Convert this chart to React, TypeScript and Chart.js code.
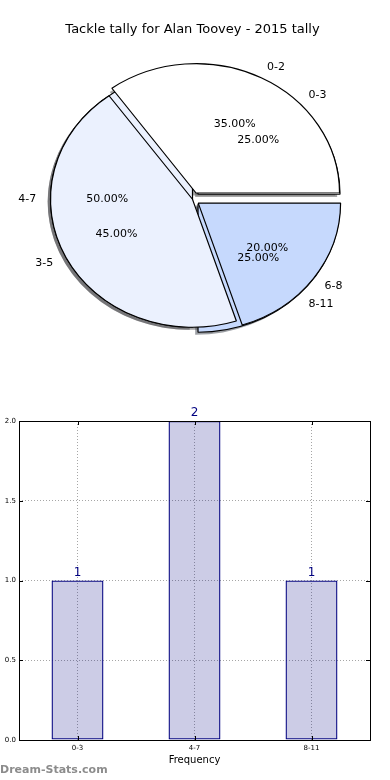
import React, { useEffect, useRef } from "react";
import { Chart, registerables } from "chart.js";

Chart.register(...registerables);

// ---------- data ----------
const TITLE = "Tackle tally for Alan Toovey - 2015 tally";

const pieALabels = ["0-2", "3-5", "6-8"];
const pieAValues = [35, 45, 20];
const pieAExplode = [0.055, 0, 0.05];

const pieBLabels = ["0-3", "4-7", "8-11"];
const pieBValues = [1, 2, 1];
const pieBExplode = [0.055, 0, 0.055];

const sliceColors = ["#ffffff", "#ebf1fe", "#c6d9fd"];

const barCategories = ["0-3", "4-7", "8-11"];
const barValues = [1, 2, 1];
const yTickValues = [0, 0.5, 1.0, 1.5, 2.0];
const X_TITLE = "Frequency";
const WATERMARK = "Dream-Stats.com";

// ---------- geometry / style ----------
const FONT = "'DejaVu Sans', 'Liberation Sans', sans-serif";
const PIE_R = 142; // horizontal radius
const PIE_K = 128 / 142; // vertical squash (axes not equal aspect)

Chart.defaults.font.family = FONT;

function hexRgb(c: string): number[] {
  const h = c.replace("#", "");
  return [0, 2, 4].map((i) => parseInt(h.substr(i, 2), 16));
}

const pieGeometry = {
  id: "pieGeometry",
  afterDatasetsUpdate(chart: any) {
    chart.getSortedVisibleDatasetMetas().forEach((meta: any) => {
      meta.data.forEach((arc: any) => {
        arc.innerRadius = 0;
        arc.outerRadius = PIE_R;
      });
    });
  },
  beforeDatasetsDraw(chart: any) {
    const ctx = chart.ctx;
    const metas = chart.getSortedVisibleDatasetMetas();
    const a0 = metas[0].data[0];
    const cx = a0.x;
    const cy = a0.y;
    ctx.save();
    ctx.translate(cx, cy);
    ctx.scale(1, PIE_K);
    ctx.translate(-cx, -cy);
    // shadows of all wedges first (behind every wedge)
    metas.forEach((meta: any) => {
      meta.data.forEach((arc: any) => {
        const mid = (arc.startAngle + arc.endAngle) / 2;
        const sh = (arc.options.offset || 0) / 4;
        const x = arc.x + Math.cos(mid) * sh - 0.02 * PIE_R;
        const y = arc.y + Math.sin(mid) * sh + 0.02 * PIE_R;
        const [r, g, b] = hexRgb(arc.options.backgroundColor);
        ctx.beginPath();
        ctx.moveTo(x, y);
        ctx.arc(x, y, arc.outerRadius, arc.startAngle, arc.endAngle);
        ctx.closePath();
        ctx.fillStyle = `rgba(${Math.round(r * 0.3)},${Math.round(g * 0.3)},${Math.round(b * 0.3)},0.5)`;
        ctx.fill();
      });
    });
  },
  afterDatasetsDraw(chart: any) {
    chart.ctx.restore();
  },
  afterDraw(chart: any) {
    const ctx = chart.ctx;
    ctx.save();
    ctx.fillStyle = "#000";
    ctx.font = `11px ${FONT}`;
    ctx.textBaseline = "middle";
    chart.getSortedVisibleDatasetMetas().forEach((meta: any) => {
      const ds: any = chart.data.datasets[meta.index];
      const total = ds.data.reduce((s: number, v: number) => s + v, 0);
      meta.data.forEach((arc: any, i: number) => {
        const mid = (arc.startAngle + arc.endAngle) / 2;
        const sh = (arc.options.offset || 0) / 4;
        const ox = arc.x + Math.cos(mid) * sh;
        const oy = arc.y + Math.sin(mid) * sh * PIE_K;
        const lx = ox + 1.1 * PIE_R * Math.cos(mid);
        const ly = oy + 1.1 * PIE_R * Math.sin(mid) * PIE_K;
        ctx.textAlign = Math.cos(mid) > 0 ? "left" : "right";
        ctx.fillText(ds.sliceLabels[i], lx, ly);
        const px = ox + 0.6 * PIE_R * Math.cos(mid);
        const py = oy + 0.6 * PIE_R * Math.sin(mid) * PIE_K;
        ctx.textAlign = "center";
        ctx.fillText(((ds.data[i] / total) * 100).toFixed(2) + "%", px, py);
      });
    });
    ctx.restore();
  },
};

const barDecor = {
  id: "barDecor",
  afterDatasetsDraw(chart: any) {
    const ctx = chart.ctx;
    const { left, right, top, bottom } = chart.chartArea;
    const xs = chart.scales.x;
    const ys = chart.scales.y;
    ctx.save();
    // frame
    ctx.strokeStyle = "#000";
    ctx.lineWidth = 1;
    ctx.strokeRect(Math.round(left) + 0.5, Math.round(top) + 0.5, Math.round(right - left), Math.round(bottom - top));
    // inside ticks
    ctx.beginPath();
    xs.ticks.forEach((_t: any, i: number) => {
      const x = Math.round(xs.getPixelForTick(i)) + 0.5;
      ctx.moveTo(x, bottom);
      ctx.lineTo(x, bottom - 4);
      ctx.moveTo(x, top);
      ctx.lineTo(x, top + 4);
    });
    ys.ticks.forEach((_t: any, i: number) => {
      const y = Math.round(ys.getPixelForTick(i)) + 0.5;
      ctx.moveTo(left, y);
      ctx.lineTo(left + 4, y);
      ctx.moveTo(right, y);
      ctx.lineTo(right - 4, y);
    });
    ctx.stroke();
    // value labels
    const meta = chart.getDatasetMeta(0);
    ctx.fillStyle = "#000080";
    ctx.font = `12px ${FONT}`;
    ctx.textAlign = "center";
    ctx.textBaseline = "bottom";
    meta.data.forEach((bar: any, i: number) => {
      ctx.fillText(String(chart.data.datasets[0].data[i]), bar.x, bar.y - 2);
    });
    ctx.restore();
  },
  afterDraw(chart: any) {
    const ctx = chart.ctx;
    ctx.save();
    ctx.fillStyle = "#8c8c8c";
    ctx.font = `bold 11px ${FONT}`;
    ctx.textAlign = "left";
    ctx.textBaseline = "middle";
    ctx.fillText(WATERMARK, 0, 370);
    ctx.restore();
  },
};

export default function App() {
  const pieRef = useRef<HTMLCanvasElement>(null);
  const barRef = useRef<HTMLCanvasElement>(null);

  useEffect(() => {
    const rev = (a: any[]) => a.slice().reverse();
    const pie = new Chart(pieRef.current as HTMLCanvasElement, {
      type: "pie",
      data: {
        labels: rev(pieALabels),
        datasets: [
          {
            data: rev(pieAValues),
            sliceLabels: rev(pieALabels),
            backgroundColor: rev(sliceColors),
            borderColor: "#000",
            borderWidth: 1.2,
            offset: rev(pieAExplode).map((e: number) => e * PIE_R * 4),
            clip: false,
          } as any,
          {
            data: rev(pieBValues),
            sliceLabels: rev(pieBLabels),
            backgroundColor: rev(sliceColors),
            borderColor: "#000",
            borderWidth: 1.2,
            offset: rev(pieBExplode).map((e: number) => e * PIE_R * 4),
            clip: false,
          } as any,
        ],
      },
      options: {
        responsive: false,
        animation: false,
        rotation: 90,
        radius: PIE_R,
        layout: { padding: { left: 2, right: 7, top: 0, bottom: 0 } },
        plugins: {
          legend: { display: false },
          tooltip: { enabled: false },
          title: {
            display: true,
            text: TITLE,
            color: "#000",
            font: { family: FONT, size: 13, weight: "normal" },
            padding: { top: 22, bottom: 0 },
          },
        },
        events: [],
      } as any,
      plugins: [pieGeometry],
    });

    const bar = new Chart(barRef.current as HTMLCanvasElement, {
      type: "bar",
      data: {
        labels: barCategories,
        datasets: [
          {
            data: barValues,
            backgroundColor: "rgba(0,0,128,0.2)",
            borderColor: "#000080",
            borderWidth: 1.3,
            borderSkipped: false,
            categoryPercentage: 1,
            barPercentage: 0.444,
          },
        ],
      },
      options: {
        responsive: false,
        animation: false,
        events: [],
        layout: { padding: { left: 0, right: 20, top: 21, bottom: 0 } },
        plugins: { legend: { display: false }, tooltip: { enabled: false }, title: { display: false } },
        scales: {
          x: {
            type: "category",
            offset: true,
            grid: { display: true, offset: false, drawTicks: false, color: "rgba(0,0,0,0.35)", lineWidth: 1 },
            border: { display: false, dash: [1, 2] },
            ticks: { color: "#000", font: { size: 7 }, padding: 4, maxRotation: 0 },
            title: { display: true, text: X_TITLE, color: "#000", font: { size: 10 }, padding: { top: 0, bottom: 14 } },
            afterFit: (s: any) => {
              s.height = 40;
            },
          },
          y: {
            min: 0,
            max: 2,
            grid: { display: true, drawTicks: false, color: "rgba(0,0,0,0.35)", lineWidth: 1 },
            border: { display: false, dash: [1, 2] },
            afterBuildTicks: (s: any) => {
              s.ticks = yTickValues.map((v) => ({ value: v }));
            },
            ticks: { color: "#000", font: { size: 7 }, padding: 3, callback: (v: any) => Number(v).toFixed(1) },
            afterFit: (s: any) => {
              s.width = 19;
            },
          },
        },
      } as any,
      plugins: [barDecor],
    });

    return () => {
      pie.destroy();
      bar.destroy();
    };
  }, []);

  return (
    <div style={{ position: "absolute", left: 0, top: 0, width: 390, height: 780, background: "#fff" }}>
      <canvas ref={pieRef} width={390} height={361} style={{ position: "absolute", left: 0, top: 0 }} />
      <canvas ref={barRef} width={390} height={380} style={{ position: "absolute", left: 0, top: 400 }} />
    </div>
  );
}
